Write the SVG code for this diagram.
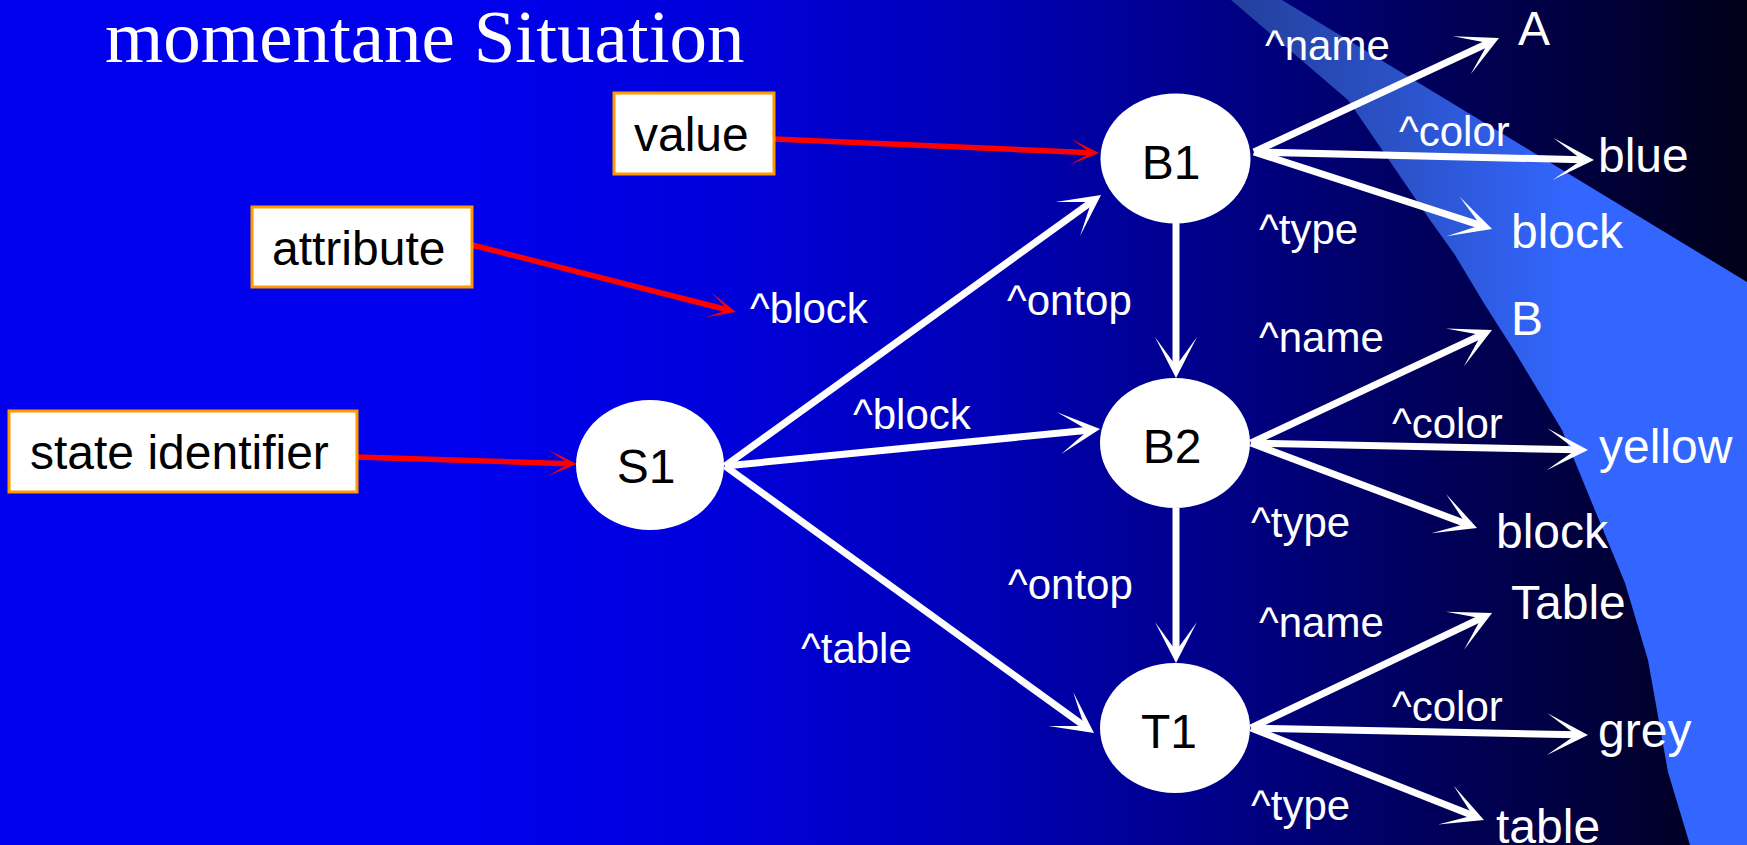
<svg xmlns="http://www.w3.org/2000/svg" width="1747" height="845" viewBox="0 0 1747 845">
  <defs>
    <linearGradient id="bg" gradientUnits="userSpaceOnUse" x1="0" y1="0" x2="1747" y2="0">
      <stop offset="0" stop-color="#0000EE"/>
      <stop offset="0.28" stop-color="#0000EC"/>
      <stop offset="0.42" stop-color="#0000DA"/>
      <stop offset="0.57" stop-color="#0000B4"/>
      <stop offset="0.69" stop-color="#00008A"/>
      <stop offset="0.80" stop-color="#000062"/>
      <stop offset="0.91" stop-color="#00003C"/>
      <stop offset="1" stop-color="#000018"/>
    </linearGradient>
    <linearGradient id="band" gradientUnits="userSpaceOnUse" x1="1230" y1="0" x2="1570" y2="0">
      <stop offset="0" stop-color="#233F9C"/>
      <stop offset="0.5" stop-color="#2B52C8"/>
      <stop offset="1" stop-color="#3366FF"/>
    </linearGradient>
    <marker id="wh" markerUnits="userSpaceOnUse" markerWidth="90" markerHeight="90" viewBox="-45 -45 90 90" refX="0" refY="0" orient="auto" overflow="visible">
      <path d="M12,0 L-29,-21 L0,0 L-29,21 Z" fill="#FFFFFF"/>
    </marker>
    <marker id="rd" markerUnits="userSpaceOnUse" markerWidth="60" markerHeight="60" viewBox="-30 -30 60 60" refX="0" refY="0" orient="auto" overflow="visible">
      <path d="M8,0 L-21,-13 L0,0 L-21,13 Z" fill="#FF0000"/>
    </marker>
    <style>
      .node { fill: #FFFFFF; }
      .ntext { font-family: "Liberation Sans", Arial, sans-serif; font-size: 48px; fill: #000000; text-anchor: middle; }
      .box { fill: #FFFFFF; stroke: #FF9900; stroke-width: 3; }
      .btext { font-family: "Liberation Sans", Arial, sans-serif; font-size: 48px; fill: #000000; }
      .edge { stroke: #FFFFFF; stroke-width: 7; fill: none; marker-end: url(#wh); }
      .ref { stroke: #FF0000; stroke-width: 5.5; fill: none; marker-end: url(#rd); }
      .lbl { font-family: "Liberation Sans", Arial, sans-serif; font-size: 42px; fill: #FFFFFF; }
      .val { font-family: "Liberation Sans", Arial, sans-serif; font-size: 48px; fill: #FFFFFF; }
      .title { font-family: "Liberation Serif", "Times New Roman", serif; font-size: 75px; fill: #FFFFFF; }
    </style>
  </defs>

  <!-- backdrop: horizontal blue fade and the lighter curved band -->
  <rect x="0" y="0" width="1747" height="845" fill="url(#bg)"/>
  <path d="M1231,0 L1292,52 L1348,100 L1389,160 L1430,220 L1455,255 L1485,305 L1515,352 L1562,430 L1592,503 L1625,583 L1648,660 L1668,772 L1690,845 L1747,845 L1747,282 L1282,0 Z" fill="url(#band)"/>

  <text class="title" x="105" y="62">momentane Situation</text>

  <!-- connectors -->
  <g id="connectors">
    <!-- annotation arrows -->
    <line class="ref" x1="774" y1="139" x2="1091" y2="152.7"/>
    <line class="ref" x1="472" y1="245" x2="728.2" y2="310"/>
    <line class="ref" x1="357" y1="457" x2="569" y2="463.7"/>
    <!-- from S1 -->
    <line class="edge" x1="725" y1="466" x2="1091.3" y2="202"/>
    <line class="edge" x1="725" y1="466" x2="1088.1" y2="430.2"/>
    <line class="edge" x1="725" y1="466" x2="1084.3" y2="726"/>
    <!-- ontop chain -->
    <line class="edge" x1="1176" y1="223" x2="1176" y2="366"/>
    <line class="edge" x1="1176" y1="508" x2="1176" y2="651"/>
    <!-- from B1 -->
    <line class="edge" x1="1254" y1="152" x2="1488.1" y2="43.1"/>
    <line class="edge" x1="1254" y1="152" x2="1582" y2="159.7"/>
    <line class="edge" x1="1254" y1="152" x2="1480.6" y2="225.3"/>
    <!-- from B2 -->
    <line class="edge" x1="1251" y1="443" x2="1481.1" y2="335.1"/>
    <line class="edge" x1="1251" y1="443" x2="1576" y2="449.75"/>
    <line class="edge" x1="1251" y1="443" x2="1465.8" y2="523.8"/>
    <!-- from T1 -->
    <line class="edge" x1="1251" y1="728" x2="1481.2" y2="618.2"/>
    <line class="edge" x1="1251" y1="728" x2="1576" y2="734.75"/>
    <line class="edge" x1="1251" y1="728" x2="1472.8" y2="815.6"/>
  </g>

  <!-- edge labels -->
  <g id="edge-labels">
    <text class="lbl" x="750" y="323">^block</text>
    <text class="lbl" x="853" y="429">^block</text>
    <text class="lbl" x="801" y="663">^table</text>
    <text class="lbl" x="1007" y="315">^ontop</text>
    <text class="lbl" x="1008" y="599">^ontop</text>
    <text class="lbl" x="1265" y="60">^name</text>
    <text class="lbl" x="1399" y="146">^color</text>
    <text class="lbl" x="1259" y="244">^type</text>
    <text class="lbl" x="1259" y="352">^name</text>
    <text class="lbl" x="1392" y="438">^color</text>
    <text class="lbl" x="1251" y="537">^type</text>
    <text class="lbl" x="1259" y="637">^name</text>
    <text class="lbl" x="1392" y="721">^color</text>
    <text class="lbl" x="1251" y="820">^type</text>
  </g>

  <!-- attribute values -->
  <g id="values">
    <text class="val" x="1518" y="45">A</text>
    <text class="val" x="1598" y="172">blue</text>
    <text class="val" x="1511" y="248">block</text>
    <text class="val" x="1511" y="335">B</text>
    <text class="val" x="1599" y="463">yellow</text>
    <text class="val" x="1496" y="548">block</text>
    <text class="val" x="1511" y="619">Table</text>
    <text class="val" x="1598" y="747">grey</text>
    <text class="val" x="1496" y="843">table</text>
  </g>

  <!-- annotation boxes -->
  <g id="box-value">
    <rect class="box" x="614" y="93" width="160" height="81"/>
    <text class="btext" x="634" y="151">value</text>
  </g>
  <g id="box-attribute">
    <rect class="box" x="252" y="207" width="220" height="80"/>
    <text class="btext" x="272" y="265">attribute</text>
  </g>
  <g id="box-state">
    <rect class="box" x="9" y="411" width="348" height="81"/>
    <text class="btext" x="30" y="469">state identifier</text>
  </g>

  <!-- state and object nodes -->
  <g id="S1">
    <ellipse class="node" cx="650" cy="465" rx="74" ry="65"/>
    <text class="ntext" x="646" y="483">S1</text>
  </g>
  <g id="B1">
    <ellipse class="node" cx="1175.5" cy="158.5" rx="75" ry="65"/>
    <text class="ntext" x="1171" y="179">B1</text>
  </g>
  <g id="B2">
    <ellipse class="node" cx="1175" cy="443" rx="75" ry="65"/>
    <text class="ntext" x="1172" y="463">B2</text>
  </g>
  <g id="T1">
    <ellipse class="node" cx="1175" cy="728" rx="75" ry="65"/>
    <text class="ntext" x="1169" y="748">T1</text>
  </g>
</svg>
